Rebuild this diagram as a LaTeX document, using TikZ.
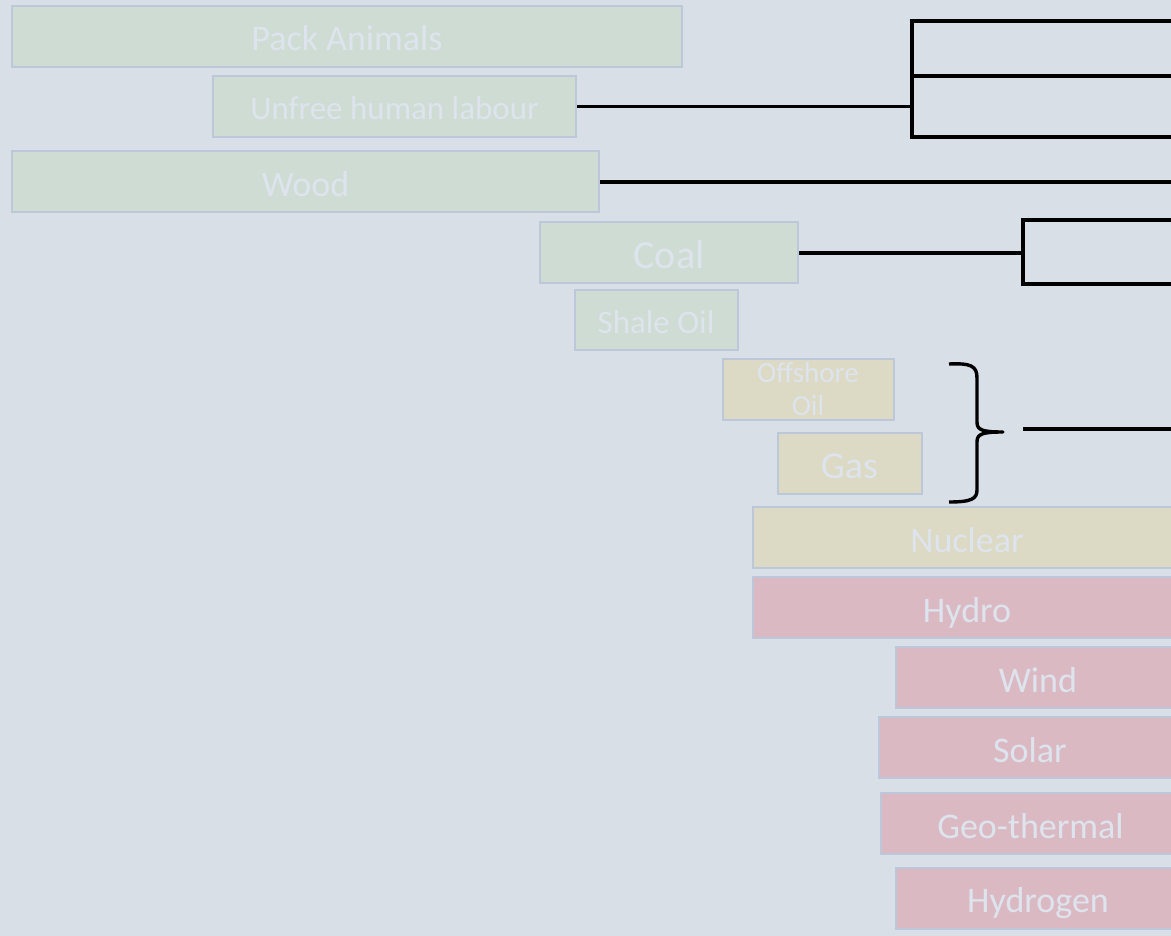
\documentclass[tikz,border=0pt]{standalone}
\usepackage{fontspec}
\setmainfont{Carlito}
\definecolor{bgc}{HTML}{D9DFE7}
\definecolor{grf}{HTML}{CEDCD3}
\definecolor{ylf}{HTML}{DCD9C4}
\definecolor{pkf}{HTML}{DBB9C3}
\definecolor{bdc}{HTML}{BCC8DA}
\definecolor{txc}{HTML}{DDE4ED}
\tikzset{
  box/.style={draw=bdc, line width=2pt, rectangle, inner sep=0pt, text=txc, text depth=0pt},
  fA/.style={font=\fontsize{36}{40}\selectfont, text height=29pt},
  fB/.style={font=\fontsize{33}{36}\selectfont, text height=27pt},
  fC/.style={font=\fontsize{40}{44}\selectfont, text height=32pt},
  fD/.style={font=\fontsize{38}{42}\selectfont, text height=30.5pt},
  gbox/.style={box, fill=grf},
  ybox/.style={box, fill=ylf},
  pbox/.style={box, fill=pkf},
  conn/.style={draw=black, line width=3.4pt},
}
\begin{document}
\begin{tikzpicture}[x=1pt, y=-1pt]
\useasboundingbox (0,0) rectangle (1171,936);
\clip (0,0) rectangle (1171,936);
\fill[bgc] (0,0) rectangle (1171,936);
% boxes
\node[gbox, fA, minimum width=670pt, minimum height=61pt] (pack) at (347,36.5) {Pack Animals};
\node[gbox, fB, minimum width=363pt, minimum height=61pt] (unfree) at (394.5,106.5) {Unfree human labour};
\node[gbox, fA, minimum width=587pt, minimum height=61pt] (wood) at (305.5,182) {Wood};
\node[gbox, fC, minimum width=258pt, minimum height=61pt] (coal) at (669,253) {Coal};
\node[gbox, fB, minimum width=163pt, minimum height=60pt] (shale) at (656,320) {Shale Oil};
\node[ybox, font=\fontsize{29}{33}\selectfont, align=center, minimum width=171pt, minimum height=61pt] (offshore) at (808,389) {Offshore\\Oil};
\node[ybox, fD, minimum width=144pt, minimum height=61pt] (gas) at (849.5,463.5) {Gas};
\node[ybox, fA, minimum width=428pt, minimum height=61pt] (nuclear) at (967,537.5) {Nuclear};
\node[pbox, fA, minimum width=428pt, minimum height=61pt] (hydro) at (967,607.5) {Hydro};
\node[pbox, fA, minimum width=285pt, minimum height=61pt] (wind) at (1038,677.5) {Wind};
\node[pbox, fA, minimum width=302pt, minimum height=61pt] (solar) at (1030,747.5) {Solar};
\node[pbox, fA, minimum width=300pt, minimum height=61pt] (geo) at (1030.5,823.5) {Geo-thermal};
\node[pbox, fA, minimum width=285pt, minimum height=61pt] (hydrogen) at (1038,898) {Hydrogen};
% bracket for unfree labour
\coordinate (ub) at (912,106.5);
\coordinate (ut) at (912,21);
\coordinate (um) at (912,76);
\coordinate (ubt) at (912,137);
\coordinate (ute) at (1175,21);
\coordinate (ume) at (1175,76);
\coordinate (ube) at (1175,137);
\draw[conn] (unfree.east) -- (ub);
\draw[conn] (ute) -- (ut) -- (ubt) -- (ube);
\draw[conn] (um) -- (ume);
% wood line
\coordinate (we) at (1175,182);
\draw[conn] (wood.east) -- (we);
% coal bracket
\coordinate (cb) at (1023,253);
\coordinate (ct) at (1023,220);
\coordinate (cbt) at (1023,284);
\coordinate (cte) at (1175,220);
\coordinate (cbe) at (1175,284);
\draw[conn] (coal.east) -- (cb);
\draw[conn] (cte) -- (ct) -- (cbt) -- (cbe);
% brace for offshore oil and gas
\coordinate (bt) at (949,364);
\coordinate (btip) at (1003,432);
\coordinate (bb) at (949,502);
\draw[conn, line join=round] (bt) .. controls (971,363) and (977,366) .. (977,378) -- (977,422)
  .. controls (977,430) and (982,432) .. (btip)
  .. controls (982,432) and (977,434) .. (977,442) -- (977,490)
  .. controls (977,499) and (971,502) .. (bb);
\coordinate (ls) at (1023,429);
\coordinate (le) at (1175,429);
\draw[conn] (ls) -- (le);
\end{tikzpicture}
\end{document}
